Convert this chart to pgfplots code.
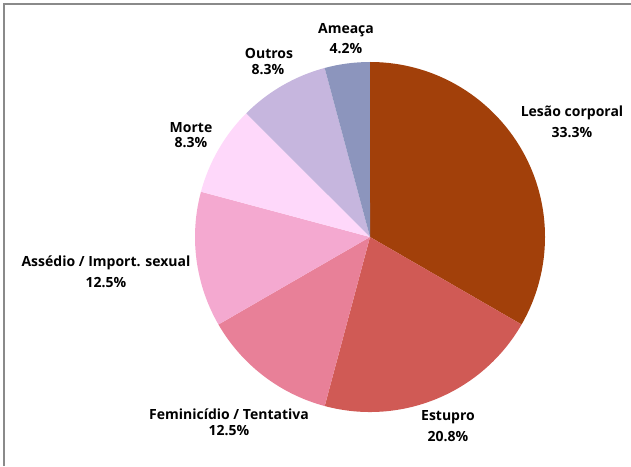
\documentclass[border=0pt]{standalone}
\usepackage{pgfplots}
\pgfplotsset{compat=1.18}
\usepackage{pgfplotstable}
\usepackage{fontspec}
\setmainfont{Open Sans}
\definecolor{c1}{HTML}{A2400A}
\definecolor{c2}{HTML}{D05A55}
\definecolor{c3}{HTML}{E88098}
\definecolor{c4}{HTML}{F4A9D0}
\definecolor{c5}{HTML}{FED8FA}
\definecolor{c6}{HTML}{C6B6DE}
\definecolor{c7}{HTML}{8C95BD}
\definecolor{framegray}{HTML}{8A8A8A}

% counts (out of 24): Lesao corporal, Estupro, Feminicidio, Assedio, Morte, Outros, Ameaca
\pgfplotstableread[col sep=comma]{
value,color
8,c1
5,c2
3,c3
3,c4
2,c5
2,c6
1,c7
}\piedata

\begin{document}
\begin{tikzpicture}
\useasboundingbox (0,0) rectangle (631pt,466pt);
\begin{axis}[x=1pt,y=1pt,xmin=0,xmax=631,ymin=0,ymax=466,hide axis,clip=false,
  anchor=origin, at={(0,0)}]
\def\total{24}
\def\startang{90}
\pgfplotsforeachungrouped \i in {0,...,6} {%
  \pgfplotstablegetelem{\i}{value}\of\piedata \let\slicev\pgfplotsretval
  \pgfplotstablegetelem{\i}{color}\of\piedata \let\slicecol\pgfplotsretval
  \pgfmathsetmacro\endang{\startang-\slicev/\total*360}%
  \edef\cmd{\noexpand\fill[\slicecol] (axis cs:370,229) -- ([shift={(\startang:175pt)}]axis cs:370,229) arc[start angle=\startang, end angle=\endang, radius=175pt] -- cycle;}%
  \cmd
  \global\let\startang\endang
}
\draw[framegray, line width=1.5pt] (axis cs:4,0) -- (axis cs:4,462) -- (axis cs:631,462);
\tikzset{lbl/.style={font=\bfseries\fontsize{14}{16}\selectfont, inner sep=0pt}}
\node[lbl] at (axis cs:346,436) {Ameaça};
\node[lbl] at (axis cs:346,417) {4.2\%};
\node[lbl] at (axis cs:269,413) {Outros};
\node[lbl] at (axis cs:268,396) {8.3\%};
\node[lbl] at (axis cs:191,338) {Morte};
\node[lbl] at (axis cs:191,323) {8.3\%};
\node[lbl] at (axis cs:106,203) {Assédio / Import. sexual};
\node[lbl] at (axis cs:106,183) {12.5\%};
\node[lbl] at (axis cs:229,52) {Feminicídio / Tentativa};
\node[lbl] at (axis cs:229,35) {12.5\%};
\node[lbl] at (axis cs:448,49) {Estupro};
\node[lbl] at (axis cs:448,29) {20.8\%};
\node[lbl] at (axis cs:572,353) {Lesão corporal};
\node[lbl] at (axis cs:572,333) {33.3\%};
\end{axis}
\end{tikzpicture}
\end{document}
